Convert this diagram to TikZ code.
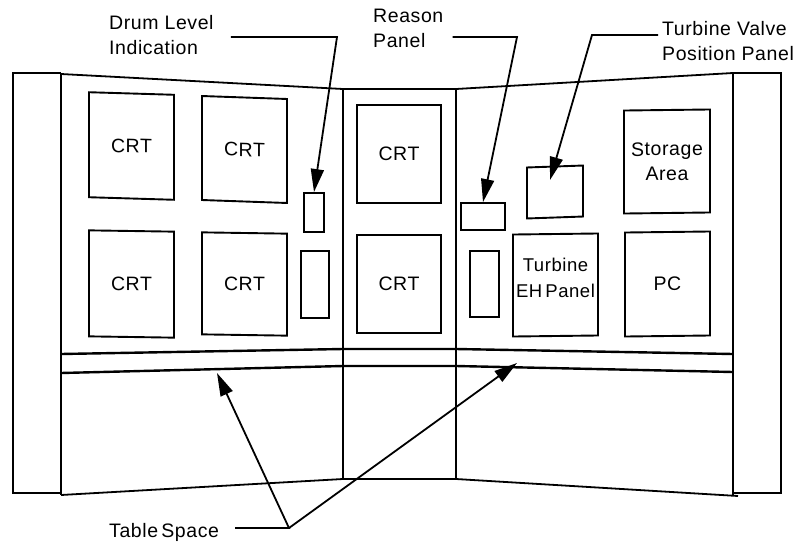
\documentclass[tikz,border=0pt]{standalone}
\usepackage{fontspec}
\setmainfont{Liberation Sans}[LetterSpace=3]
\usetikzlibrary{arrows.meta}

\begin{document}
\begin{tikzpicture}[x=1pt, y=-1pt,
    frame/.style={line width=1.8pt, line join=miter},
    edge/.style={line width=2.4pt},
    box/.style={draw, line width=1.9pt, inner sep=0pt, align=center},
    callout/.style={inner sep=0pt, align=left, anchor=north west},
    lead/.style={line width=1.8pt, -{Triangle[length=23pt, width=13pt]}},
    every node/.style={font=\fontsize{19.5}{25}\selectfont}]
    \useasboundingbox (0,0) rectangle (798,544);

    % Outer columns and console panels
    \draw[frame] (61,73) -- (13,73) -- (13,493) -- (61,493);
    \draw[frame] (61,73) -- (61,495);
    \draw[frame] (61,74) -- (343,89) -- (343,479) -- (61,495);
    \draw[frame] (343,89) -- (456,89) -- (456,479) -- (343,479);
    \draw[frame] (456,89) -- (733,73);
    \draw[frame] (456,479) -- (738,496);
    \draw[frame] (733,73) -- (781,73) -- (781,493) -- (733,493);
    \draw[frame] (733,73) -- (733,495);

    % Table edge
    \draw[edge] (61,354) -- (343,349) -- (456,349) -- (733,354);
    \draw[edge] (61,373) -- (343,366) -- (456,366) -- (733,372);

    % Left panel
    \node[box, yslant=-0.03, minimum width=85pt, minimum height=105pt] (crtA) at (131.5,146) {CRT};
    \node[box, yslant=-0.035, minimum width=85pt, minimum height=104pt] (crtB) at (244.5,149.5) {CRT};
    \node[box, yslant=-0.015, minimum width=85pt, minimum height=106pt] (crtC) at (131.5,284) {CRT};
    \node[box, yslant=-0.015, minimum width=85pt, minimum height=102pt] (crtD) at (244.5,284) {CRT};
    \node[box, minimum width=20pt, minimum height=39pt] (drum) at (314,212.5) {};
    \node[box, minimum width=28pt, minimum height=67pt] (lvlbox) at (315,284.5) {};

    % Middle panel
    \node[box, minimum width=84pt, minimum height=98pt] (crtE) at (399,154) {CRT};
    \node[box, minimum width=84pt, minimum height=98pt] (crtF) at (399,284) {CRT};

    % Right panel
    \node[box, minimum width=44pt, minimum height=27pt] (reason) at (483,216.5) {};
    \node[box, minimum width=29pt, minimum height=66pt] (rsnbox) at (484.5,284) {};
    \node[box, yslant=0.035, minimum width=56pt, minimum height=51pt] (valve) at (555,192) {};
    \node[box, yslant=0.012, minimum width=86pt, minimum height=103pt] (storage) at (667,161.5) {Storage\\Area};
    \node[box, yslant=0.012, minimum width=85pt, minimum height=102pt,
          label={[yshift=7pt, align=center, inner sep=0pt, font=\fontsize{18.5}{26}\selectfont]center:Turbine\\EH\,Panel}] (ehpanel) at (555.5,285) {};
    \node[box, yslant=0.012, minimum width=85pt, minimum height=104pt] (pc) at (667.5,284) {PC};

    % Callouts
    \node[callout] (drumlbl) at (109,15) {Drum Level\\Indication};
    \node[callout] (reasonlbl) at (373,9) {Reason\\Panel};
    \node[callout] (valvelbl) at (662,21) {Turbine Valve\\Position Panel};
    \node[callout] (tablelbl) at (109,523) {Table\,Space};

    \coordinate (drumbend) at (337,37);
    \coordinate (reasonbend) at (517,37);
    \coordinate (valvebend) at (592,35);
    \coordinate (valvetip) at (550,180);
    \coordinate (tablebend) at (289,528);
    \coordinate (tableL) at (217,373);
    \coordinate (tableR) at (517,363);

    \draw[lead] ([xshift=17pt]drumlbl.east |- drumbend) -- (drumbend) -- (drum.north);
    \draw[lead] ([xshift=9pt]reasonlbl.east |- reasonbend) -- (reasonbend) -- (reason.north);
    \draw[lead] ([xshift=-4pt]valvelbl.west |- valvebend) -- (valvebend) -- (valvetip);
    \draw[lead] ([xshift=16pt]tablelbl.east |- tablebend) -- (tablebend) -- (tableL);
    \draw[lead] (tablebend) -- (tableR);
\end{tikzpicture}
\end{document}
